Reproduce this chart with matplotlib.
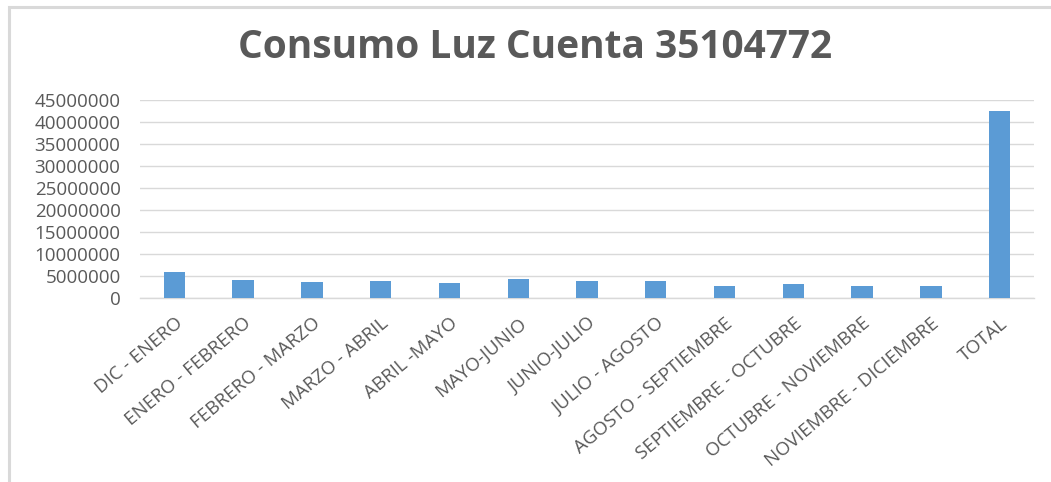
import matplotlib
matplotlib.use('Agg')
import matplotlib.pyplot as plt
from matplotlib.patches import Rectangle

# consumo por periodo
periodos = ['DIC - ENERO', 'ENERO - FEBRERO', 'FEBRERO - MARZO', 'MARZO - ABRIL',
            'ABRIL -MAYO', 'MAYO-JUNIO', 'JUNIO-JULIO', 'JULIO - AGOSTO',
            'AGOSTO - SEPTIEMBRE', 'SEPTIEMBRE - OCTUBRE', 'OCTUBRE - NOVIEMBRE',
            'NOVIEMBRE - DICIEMBRE', 'TOTAL']
consumo = [5850000, 3960000, 3500000, 3730000, 3280000, 4190000, 3730000,
           3730000, 2730000, 3050000, 2730000, 2730000, 42400000]
y_ticks = list(range(0, 45000001, 5000000))

INK, GRID, BAR = '#595959', '#d9d9d9', '#5b9bd5'
plt.rcParams['font.family'] = ['Open Sans', 'DejaVu Sans']

fig = plt.figure(figsize=(10.51, 4.82), dpi=100)
fig.patch.set_facecolor('white')
# marco del gráfico
fig.add_artist(Rectangle((9 / 1051, -0.05), 1.2, 1 - 6.5 / 482 + 0.05,
                         transform=fig.transFigure, fill=False,
                         edgecolor=GRID, lw=2.2))

ax = fig.add_axes([140 / 1051, 1 - 297.7 / 482, (1034 - 140) / 1051, (297.7 - 100) / 482])
x = range(len(periodos))
ax.bar(x, consumo, width=0.31, color=BAR, zorder=3)
ax.set_xlim(-0.5, len(periodos) - 0.5)
ax.set_ylim(0, 45000000)
ax.set_yticks(y_ticks)
ax.set_yticklabels([str(v) for v in y_ticks])
ax.set_xticks(list(x))
ax.set_xticklabels(periodos, rotation=40, ha='right', rotation_mode='anchor')

ax.grid(axis='y', color=GRID, lw=1, zorder=0)
for s in ('top', 'right', 'left'):
    ax.spines[s].set_visible(False)
ax.spines['bottom'].set_color(GRID)
ax.spines['bottom'].set_linewidth(1)
ax.tick_params(axis='both', length=0, colors=INK, labelsize=13.5)
ax.tick_params(axis='y', pad=14)
ax.tick_params(axis='x', pad=12)

fig.text(535 / 1051, 1 - 48 / 482, 'Consumo Luz Cuenta 35104772', ha='center',
         va='center', fontsize=28, fontweight='bold', color=INK)

fig.savefig('out.png', dpi=100, facecolor='white')
